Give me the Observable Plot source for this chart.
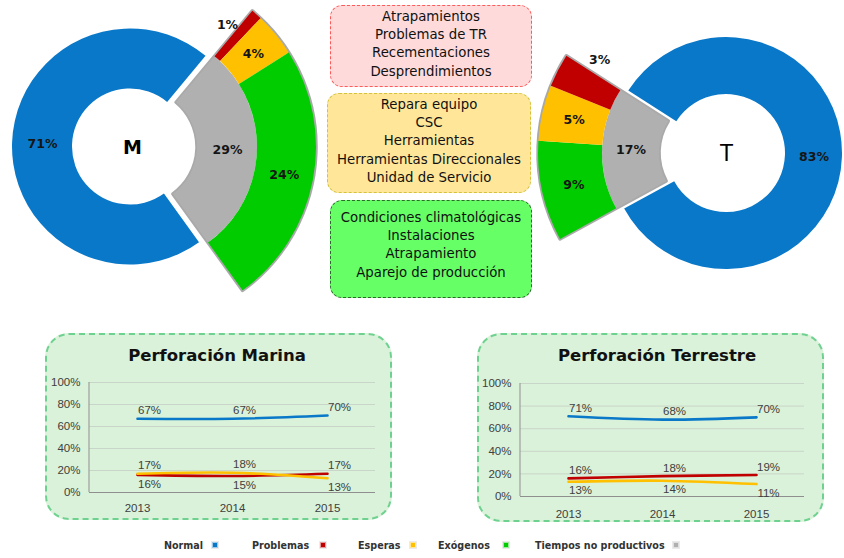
<!DOCTYPE html>
<html>
<head>
<meta charset="utf-8">
<script src="https://cdn.jsdelivr.net/npm/d3@7"></script>
<script src="https://cdn.jsdelivr.net/npm/@observablehq/plot@0.6"></script>
<style>
  body { margin: 0; background: #fff; }
  #root { position: relative; width: 844px; height: 558px; overflow: hidden; font-family: "DejaVu Sans", sans-serif; background: #fff; }
  .abs { position: absolute; }
  .note { position: absolute; box-sizing: border-box; text-align: center; font-size: 13.3px; line-height: 18.2px; color: #111; border-radius: 12px; }
  .frame { position: absolute; box-sizing: border-box; border: 2.5px dashed #6fd18f; border-radius: 24px; background: #d9f2d9; }
  .ptitle { position: absolute; font-weight: bold; font-size: 16.5px; color: #111; text-align: center; white-space: nowrap; transform: translate(-50%, -50%); }
  .leg { position: absolute; top: 545px; transform: translateY(-50%); font-weight: bold; font-size: 9.6px; color: #333; white-space: nowrap; }
  .sq { position: absolute; top: 545px; width: 6px; height: 6px; transform: translate(-50%, -50%); box-sizing: border-box; border: 1px solid rgba(255,255,255,0.6); outline: 1px solid rgba(0,0,0,0.08); }
</style>
</head>
<body>
<div id="root"></div>
<script>
// ---------------- DATA ----------------
const legendCategories = ["Normal", "Problemas", "Esperas", "Exógenos", "Tiempos no productivos"];
const ringCategories = ["Normal", "Tiempos no productivos"];
const marinaRing = [71, 29];
const terrestreRing = [83, 17];
const tnpCategories = ["Problemas", "Esperas", "Exógenos"];
const marinaTnp = [1, 4, 24];
const terrestreTnp = [3, 5, 9];
const donutNames = ["M", "T"];

const years = ["2013", "2014", "2015"];
const lineSeries = ["Normal", "Problemas", "Esperas"];
const marinaNormal = [0.67, 0.67, 0.70];
const marinaProblemas = [0.16, 0.15, 0.17];
const marinaEsperas = [0.17, 0.18, 0.13];
const terrestreNormal = [0.71, 0.68, 0.70];
const terrestreProblemas = [0.16, 0.18, 0.19];
const terrestreEsperas = [0.13, 0.14, 0.11];
const yTicks = [0, 0.2, 0.4, 0.6, 0.8, 1];
const chartTitles = ["Perforación Marina", "Perforación Terrestre"];

const problemasList = ["Atrapamientos", "Problemas de TR", "Recementaciones", "Desprendimientos"];
const esperasList = ["Repara equipo", "CSC", "Herramientas", "Herramientas Direccionales", "Unidad de Servicio"];
const exogenosList = ["Condiciones climatológicas", "Instalaciones", "Atrapamiento", "Aparejo de producción"];

// ---------------- STYLE ----------------
const palette = ["#0a78c8", "#c00000", "#ffc000", "#00cc00", "#b0b0b0"];
const color = Plot.scale({color: {type: "ordinal", domain: legendCategories, range: palette}});
const root = document.getElementById("root");
const deg = Math.PI / 180;

// ---------------- DONUTS ----------------
function buildDonut(ring, tnp, cfg) {
  const {cx, cy, R, r, R2, mid, explode, reverse} = cfg;
  const total = d3.sum(ring);
  const span = ring[1] / total * 2 * Math.PI;
  const a0 = mid - span / 2, a1 = mid + span / 2;
  const ex = cx + explode * Math.sin(mid), ey = cy - explode * Math.cos(mid);
  const slices = [
    {cat: ringCategories[0], value: ring[0], cx, cy, inner: r, outer: R, start: a1, end: a0 + 2 * Math.PI},
    {cat: ringCategories[1], value: ring[1], cx: ex, cy: ey, inner: r, outer: R, start: a0, end: a1}
  ];
  const subs = tnpCategories.map((c, i) => ({cat: c, value: tnp[i]}));
  const ordered = reverse ? subs.slice().reverse() : subs;
  const pie = d3.pie().sort(null).value(d => d.value).startAngle(a0).endAngle(a1);
  const subSlices = pie(ordered).map(p => ({...p.data, cx: ex, cy: ey, inner: R, outer: R2, start: p.startAngle, end: p.endAngle}));
  const all = slices.concat(subSlices);
  const labels = all.map(s => {
    let ang = (s.start + s.end) / 2, rad = (s.inner + s.outer) / 2;
    if (s.value / total < 0.035) {
      const first = Math.abs(s.start - a0) < 1e-9;
      ang = first ? s.start - 4 * deg : s.end + 5.5 * deg;
      rad += 3;
    }
    return {x: s.cx + rad * Math.sin(ang), y: s.cy - rad * Math.cos(ang), text: s.value + "%"};
  });
  const outline = {cx: ex, cy: ey, inner: r, outer: R2, start: a0, end: a1};
  return {all, labels, outline};
}

const donutM = buildDonut(marinaRing, marinaTnp, {cx: 130, cy: 146.5, R: 118, r: 58, R2: 177, mid: 92 * deg, explode: 9, reverse: false});
const donutT = buildDonut(terrestreRing, terrestreTnp, {cx: 726, cy: 153, R: 116, r: 59, R2: 180, mid: 272 * deg, explode: 8, reverse: true});
const centers = [
  {x: 132, y: 147, text: donutNames[0], weight: "bold", size: 19, font: "DejaVu Sans"},
  {x: 726, y: 153, text: donutNames[1], weight: "normal", size: 23, font: "Liberation Sans"}
];

function arcMark(donut) {
  return () => {
    const g = d3.create("svg:g");
    const arc = d3.arc();
    const o = donut.outline;
    g.append("path")
      .attr("transform", `translate(${o.cx},${o.cy})`)
      .attr("d", arc({innerRadius: o.inner, outerRadius: o.outer, startAngle: o.start, endAngle: o.end}))
      .attr("fill", "none").attr("stroke", "#a9a9a9").attr("stroke-width", 3.5).attr("stroke-linejoin", "round");
    g.selectAll("path.slice").data(donut.all).join("path")
      .attr("class", "slice")
      .attr("transform", d => `translate(${d.cx},${d.cy})`)
      .attr("d", d => arc({innerRadius: d.inner, outerRadius: d.outer, startAngle: d.start, endAngle: d.end}))
      .attr("fill", d => color.apply(d.cat));
    return g.node();
  };
}

const topPlot = Plot.plot({
  width: 844, height: 300, margin: 0,
  x: {type: "identity", axis: null},
  y: {type: "identity", axis: null},
  style: {background: "transparent", overflow: "visible"},
  marks: [
    arcMark(donutM),
    arcMark(donutT),
    Plot.text(donutM.labels.concat(donutT.labels), {x: "x", y: "y", text: "text", fontSize: 12.5, fontWeight: "bold", fill: "#151515", fontFamily: "DejaVu Sans"}),
    Plot.text(centers.slice(0, 1), {x: "x", y: "y", text: "text", fontSize: 19, fontWeight: "bold", fill: "#000", fontFamily: "DejaVu Sans"}),
    Plot.text(centers.slice(1), {x: "x", y: "y", text: "text", fontSize: 23, fill: "#000", fontFamily: "Liberation Sans"})
  ]
});
topPlot.style.position = "absolute";
topPlot.style.left = "0px";
topPlot.style.top = "0px";
root.appendChild(topPlot);

// ---------------- NOTE BOXES ----------------
function noteBox(lines, css) {
  const d = document.createElement("div");
  d.className = "note";
  Object.assign(d.style, css);
  d.innerHTML = lines.map(l => `<div>${l}</div>`).join("");
  root.appendChild(d);
}
noteBox(problemasList, {left: "330px", top: "5px", width: "202px", height: "82px", background: "#ffdada", border: "1.5px dashed #ff5a5a", paddingTop: "2px"});
noteBox(esperasList, {left: "327px", top: "93px", width: "204px", height: "100px", background: "#ffe699", border: "1.5px dashed #d2c23e", paddingTop: "2px"});
noteBox(exogenosList, {left: "330px", top: "200px", width: "202px", height: "98px", background: "#66ff66", border: "1.5px dashed #2e6a2e", paddingTop: "8px"});

// ---------------- LINE CHARTS ----------------
function lineChart(values, cfg) {
  const rows = [];
  lineSeries.forEach((s, i) => years.forEach((y, j) => rows.push({series: s, year: y, value: values[i][j]})));
  const labelled = rows.map(d => {
    let pos = "above";
    if (d.series !== "Normal") {
      const other = rows.find(o => o.year === d.year && o.series !== d.series && o.series !== "Normal");
      pos = d.value >= other.value ? "above" : "below";
    }
    return {...d, pos};
  });
  const fmt = d => Math.round(d.value * 100) + "%";
  const plotTop = cfg.marginTop, plotBottom = cfg.height - cfg.marginBottom;
  const vAxis = () => {
    const g = d3.create("svg:g");
    g.append("line").attr("x1", cfg.marginLeft).attr("x2", cfg.marginLeft)
      .attr("y1", plotTop).attr("y2", plotBottom).attr("stroke", "#8f8f8f").attr("stroke-width", 1);
    return g.node();
  };
  const p = Plot.plot({
    width: cfg.width, height: cfg.height,
    marginLeft: cfg.marginLeft, marginRight: cfg.marginRight, marginTop: cfg.marginTop, marginBottom: cfg.marginBottom,
    style: {background: "transparent", fontFamily: "Liberation Sans, sans-serif", fontSize: "11.5px", color: "#404040", overflow: "visible"},
    x: {type: "point", domain: years, padding: 0.5, tickSize: 0, tickPadding: cfg.xPad, label: null},
    y: {domain: [0, 1], ticks: yTicks, tickFormat: d3.format(".0%"), tickSize: 0, tickPadding: 9, label: null},
    color: {domain: legendCategories, range: palette},
    marks: [
      Plot.ruleY(yTicks.slice(1), {stroke: "#c9d5c9", strokeWidth: 1}),
      Plot.ruleY([0], {stroke: "#8f8f8f", strokeWidth: 1}),
      vAxis,
      Plot.line(rows, {x: "year", y: "value", z: "series", stroke: "series", strokeWidth: 2.6, curve: "catmull-rom"}),
      Plot.text(labelled.filter(d => d.pos === "above"), {x: "year", y: "value", text: fmt, dx: 12, dy: -8, fill: "#404040", fontSize: 11.5}),
      Plot.text(labelled.filter(d => d.pos === "below"), {x: "year", y: "value", text: fmt, dx: 12, dy: 9, fill: "#404040", fontSize: 11.5})
    ]
  });
  p.style.position = "absolute";
  p.style.left = cfg.left + "px";
  p.style.top = cfg.top + "px";
  return p;
}

function panel(title, values, cfg, frame, titlePos) {
  const f = document.createElement("div");
  f.className = "frame";
  Object.assign(f.style, {left: frame.left + "px", top: frame.top + "px", width: frame.width + "px", height: frame.height + "px"});
  root.appendChild(f);
  const t = document.createElement("div");
  t.className = "ptitle";
  t.textContent = title;
  Object.assign(t.style, {left: titlePos.x + "px", top: titlePos.y + "px"});
  root.appendChild(t);
  root.appendChild(lineChart(values, cfg));
}

panel(chartTitles[0], [marinaNormal, marinaProblemas, marinaEsperas],
  {left: 45, top: 333, width: 347, height: 187, marginLeft: 44, marginRight: 17, marginTop: 49, marginBottom: 28, xPad: 11},
  {left: 45, top: 333, width: 347, height: 187}, {x: 217, y: 355});
panel(chartTitles[1], [terrestreNormal, terrestreProblemas, terrestreEsperas],
  {left: 477, top: 333, width: 347, height: 189, marginLeft: 43, marginRight: 20, marginTop: 50, marginBottom: 26, xPad: 13},
  {left: 477, top: 333, width: 347, height: 189}, {x: 657, y: 355});

// ---------------- LEGEND ----------------
const legendTextX = [164, 252, 358, 438, 535];
const legendSquareX = [215, 323, 413, 506, 676];
legendCategories.forEach((c, i) => {
  const s = document.createElement("span");
  s.className = "leg";
  s.textContent = c;
  s.style.left = legendTextX[i] + "px";
  root.appendChild(s);
  const q = document.createElement("div");
  q.className = "sq";
  q.style.left = legendSquareX[i] + "px";
  q.style.background = color.apply(c);
  root.appendChild(q);
});
</script>
</body>
</html>
